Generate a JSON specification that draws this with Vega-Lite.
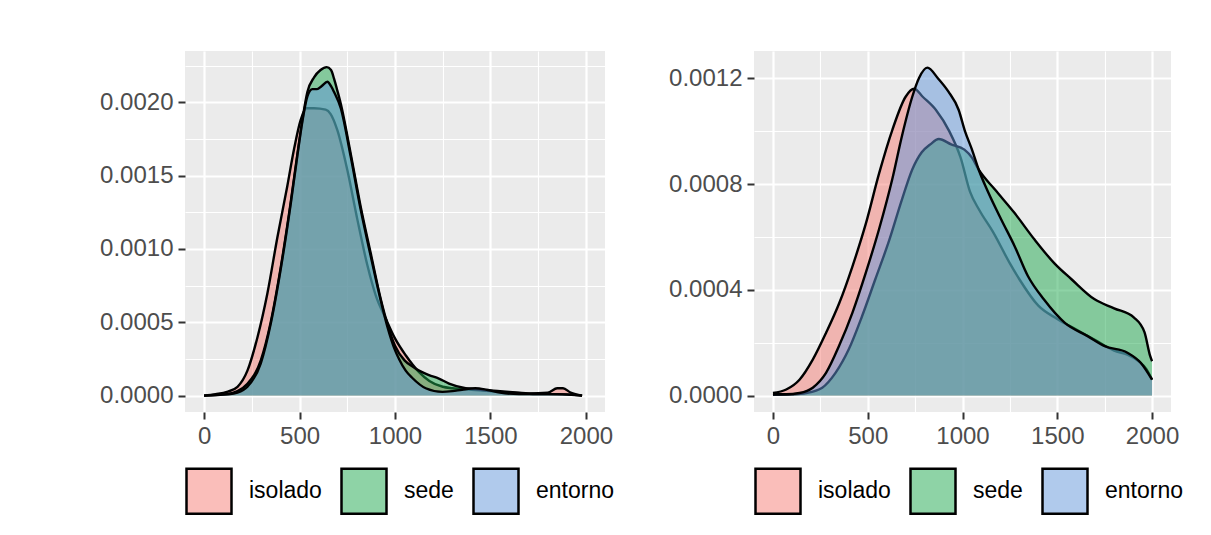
{
  "$schema": "https://vega.github.io/schema/vega-lite/v6.json",
  "background": "white",
  "padding": {"left": 99, "top": 51, "right": 10, "bottom": 5},
  "config": {
    "view": {"stroke": null, "fill": "#EBEBEB"},
    "font": "Liberation Sans",
    "axis": {"labelFontSize": 24, "labelColor": "#4D4D4D", "labelFont": "Liberation Sans", "tickColor": "#333333", "tickWidth": 2, "tickSize": 7, "labelPadding": 5, "domain": false, "gridColor": "white", "title": null, "labelOverlap": false, "labelFlush": false},
    "legend": {"orient": "bottom", "direction": "horizontal", "title": null, "labelFontSize": 23, "labelColor": "black", "labelFont": "Liberation Sans", "labelOffset": 16, "columnPadding": 14, "symbolType": "square", "symbolSize": 2025, "symbolStrokeColor": "black", "symbolStrokeWidth": 2.5, "symbolOpacity": 1, "offset": 19, "labelLimit": 0}
  },
  "datasets": {
    "dens": [
      {"panel":"L","grupo":"isolado","x":0,"y":0},{"panel":"L","grupo":"isolado","x":60,"y":0.00001},{"panel":"L","grupo":"isolado","x":120,"y":0.000025},{"panel":"L","grupo":"isolado","x":175,"y":0.00006},{"panel":"L","grupo":"isolado","x":227,"y":0.00017},{"panel":"L","grupo":"isolado","x":280,"y":0.0004},{"panel":"L","grupo":"isolado","x":332,"y":0.0007},{"panel":"L","grupo":"isolado","x":384,"y":0.00108},{"panel":"L","grupo":"isolado","x":436,"y":0.00143},{"panel":"L","grupo":"isolado","x":471,"y":0.00168},{"panel":"L","grupo":"isolado","x":506,"y":0.00188},{"panel":"L","grupo":"isolado","x":535,"y":0.00196},{"panel":"L","grupo":"isolado","x":576,"y":0.00196},{"panel":"L","grupo":"isolado","x":637,"y":0.00195},{"panel":"L","grupo":"isolado","x":663,"y":0.00192},{"panel":"L","grupo":"isolado","x":698,"y":0.00181},{"panel":"L","grupo":"isolado","x":750,"y":0.00154},{"panel":"L","grupo":"isolado","x":803,"y":0.0012},{"panel":"L","grupo":"isolado","x":855,"y":0.00089},{"panel":"L","grupo":"isolado","x":900,"y":0.00068},{"panel":"L","grupo":"isolado","x":950,"y":0.00053},{"panel":"L","grupo":"isolado","x":1000,"y":0.00039},{"panel":"L","grupo":"isolado","x":1056,"y":0.000275},{"panel":"L","grupo":"isolado","x":1126,"y":0.00016},{"panel":"L","grupo":"isolado","x":1180,"y":0.0001},{"panel":"L","grupo":"isolado","x":1250,"y":0.00006},{"panel":"L","grupo":"isolado","x":1300,"y":0.00005},{"panel":"L","grupo":"isolado","x":1400,"y":0.00004},{"panel":"L","grupo":"isolado","x":1500,"y":0.00003},{"panel":"L","grupo":"isolado","x":1600,"y":0.00002},{"panel":"L","grupo":"isolado","x":1700,"y":0.000015},{"panel":"L","grupo":"isolado","x":1800,"y":0.00002},{"panel":"L","grupo":"isolado","x":1850,"y":0.00005},{"panel":"L","grupo":"isolado","x":1880,"y":0.00005},{"panel":"L","grupo":"isolado","x":1920,"y":0.00002},{"panel":"L","grupo":"isolado","x":1980,"y":0},
      {"panel":"L","grupo":"sede","x":0,"y":0},{"panel":"L","grupo":"sede","x":120,"y":0.00001},{"panel":"L","grupo":"sede","x":175,"y":0.00003},{"panel":"L","grupo":"sede","x":227,"y":0.00008},{"panel":"L","grupo":"sede","x":297,"y":0.00024},{"panel":"L","grupo":"sede","x":349,"y":0.0005},{"panel":"L","grupo":"sede","x":401,"y":0.00087},{"panel":"L","grupo":"sede","x":454,"y":0.00132},{"panel":"L","grupo":"sede","x":489,"y":0.00165},{"panel":"L","grupo":"sede","x":515,"y":0.00188},{"panel":"L","grupo":"sede","x":541,"y":0.00207},{"panel":"L","grupo":"sede","x":576,"y":0.00217},{"panel":"L","grupo":"sede","x":610,"y":0.00222},{"panel":"L","grupo":"sede","x":642,"y":0.00224},{"panel":"L","grupo":"sede","x":665,"y":0.00222},{"panel":"L","grupo":"sede","x":681,"y":0.00216},{"panel":"L","grupo":"sede","x":698,"y":0.00208},{"panel":"L","grupo":"sede","x":716,"y":0.00199},{"panel":"L","grupo":"sede","x":768,"y":0.00165},{"panel":"L","grupo":"sede","x":820,"y":0.00129},{"panel":"L","grupo":"sede","x":873,"y":0.00097},{"panel":"L","grupo":"sede","x":925,"y":0.00066},{"panel":"L","grupo":"sede","x":960,"y":0.00049},{"panel":"L","grupo":"sede","x":1000,"y":0.00034},{"panel":"L","grupo":"sede","x":1050,"y":0.00024},{"panel":"L","grupo":"sede","x":1090,"y":0.0002},{"panel":"L","grupo":"sede","x":1126,"y":0.00017},{"panel":"L","grupo":"sede","x":1178,"y":0.00014},{"panel":"L","grupo":"sede","x":1230,"y":0.000116},{"panel":"L","grupo":"sede","x":1283,"y":0.000082},{"panel":"L","grupo":"sede","x":1370,"y":0.00005},{"panel":"L","grupo":"sede","x":1450,"y":0.00004},{"panel":"L","grupo":"sede","x":1550,"y":0.00003},{"panel":"L","grupo":"sede","x":1650,"y":0.00002},{"panel":"L","grupo":"sede","x":1750,"y":0.00001},{"panel":"L","grupo":"sede","x":1850,"y":0.00001},{"panel":"L","grupo":"sede","x":1980,"y":0},
      {"panel":"L","grupo":"entorno","x":0,"y":0},{"panel":"L","grupo":"entorno","x":120,"y":0.000008},{"panel":"L","grupo":"entorno","x":175,"y":0.00002},{"panel":"L","grupo":"entorno","x":227,"y":0.00006},{"panel":"L","grupo":"entorno","x":297,"y":0.00022},{"panel":"L","grupo":"entorno","x":349,"y":0.00049},{"panel":"L","grupo":"entorno","x":401,"y":0.00086},{"panel":"L","grupo":"entorno","x":454,"y":0.00131},{"panel":"L","grupo":"entorno","x":489,"y":0.00164},{"panel":"L","grupo":"entorno","x":515,"y":0.00187},{"panel":"L","grupo":"entorno","x":541,"y":0.00204},{"panel":"L","grupo":"entorno","x":567,"y":0.00209},{"panel":"L","grupo":"entorno","x":592,"y":0.00209},{"panel":"L","grupo":"entorno","x":615,"y":0.00211},{"panel":"L","grupo":"entorno","x":646,"y":0.00214},{"panel":"L","grupo":"entorno","x":665,"y":0.00211},{"panel":"L","grupo":"entorno","x":681,"y":0.00207},{"panel":"L","grupo":"entorno","x":716,"y":0.00196},{"panel":"L","grupo":"entorno","x":768,"y":0.00163},{"panel":"L","grupo":"entorno","x":820,"y":0.00127},{"panel":"L","grupo":"entorno","x":873,"y":0.00095},{"panel":"L","grupo":"entorno","x":925,"y":0.00065},{"panel":"L","grupo":"entorno","x":960,"y":0.00047},{"panel":"L","grupo":"entorno","x":1000,"y":0.00031},{"panel":"L","grupo":"entorno","x":1021,"y":0.00025},{"panel":"L","grupo":"entorno","x":1056,"y":0.00017},{"panel":"L","grupo":"entorno","x":1091,"y":0.00012},{"panel":"L","grupo":"entorno","x":1161,"y":0.00005},{"panel":"L","grupo":"entorno","x":1248,"y":0.000025},{"panel":"L","grupo":"entorno","x":1300,"y":0.00003},{"panel":"L","grupo":"entorno","x":1351,"y":0.00004},{"panel":"L","grupo":"entorno","x":1420,"y":0.00005},{"panel":"L","grupo":"entorno","x":1480,"y":0.00004},{"panel":"L","grupo":"entorno","x":1550,"y":0.00002},{"panel":"L","grupo":"entorno","x":1650,"y":0.00001},{"panel":"L","grupo":"entorno","x":1800,"y":0.00001},{"panel":"L","grupo":"entorno","x":1980,"y":0},
      {"panel":"R","grupo":"isolado","x":0,"y":0.00001},{"panel":"R","grupo":"isolado","x":70,"y":0.000023},{"panel":"R","grupo":"isolado","x":140,"y":0.00006},{"panel":"R","grupo":"isolado","x":210,"y":0.000136},{"panel":"R","grupo":"isolado","x":280,"y":0.000237},{"panel":"R","grupo":"isolado","x":350,"y":0.00035},{"panel":"R","grupo":"isolado","x":420,"y":0.00049},{"panel":"R","grupo":"isolado","x":490,"y":0.00065},{"panel":"R","grupo":"isolado","x":560,"y":0.00084},{"panel":"R","grupo":"isolado","x":630,"y":0.001005},{"panel":"R","grupo":"isolado","x":700,"y":0.00113},{"panel":"R","grupo":"isolado","x":745,"y":0.00116},{"panel":"R","grupo":"isolado","x":790,"y":0.00113},{"panel":"R","grupo":"isolado","x":860,"y":0.00108},{"panel":"R","grupo":"isolado","x":930,"y":0.001},{"panel":"R","grupo":"isolado","x":990,"y":0.0009},{"panel":"R","grupo":"isolado","x":1040,"y":0.00077},{"panel":"R","grupo":"isolado","x":1090,"y":0.0007},{"panel":"R","grupo":"isolado","x":1160,"y":0.00062},{"panel":"R","grupo":"isolado","x":1250,"y":0.0005},{"panel":"R","grupo":"isolado","x":1300,"y":0.00044},{"panel":"R","grupo":"isolado","x":1400,"y":0.00034},{"panel":"R","grupo":"isolado","x":1500,"y":0.00029},{"panel":"R","grupo":"isolado","x":1600,"y":0.00025},{"panel":"R","grupo":"isolado","x":1700,"y":0.00021},{"panel":"R","grupo":"isolado","x":1800,"y":0.00017},{"panel":"R","grupo":"isolado","x":1870,"y":0.000155},{"panel":"R","grupo":"isolado","x":1930,"y":0.00013},{"panel":"R","grupo":"isolado","x":1970,"y":0.0001},{"panel":"R","grupo":"isolado","x":2000,"y":0.00006},
      {"panel":"R","grupo":"sede","x":0,"y":0.000003},{"panel":"R","grupo":"sede","x":100,"y":0.000005},{"panel":"R","grupo":"sede","x":175,"y":0.00001},{"panel":"R","grupo":"sede","x":260,"y":0.00003},{"panel":"R","grupo":"sede","x":330,"y":0.000086},{"panel":"R","grupo":"sede","x":400,"y":0.000175},{"panel":"R","grupo":"sede","x":470,"y":0.0003},{"panel":"R","grupo":"sede","x":540,"y":0.00044},{"panel":"R","grupo":"sede","x":610,"y":0.00058},{"panel":"R","grupo":"sede","x":680,"y":0.00074},{"panel":"R","grupo":"sede","x":735,"y":0.000855},{"panel":"R","grupo":"sede","x":785,"y":0.00092},{"panel":"R","grupo":"sede","x":830,"y":0.00095},{"panel":"R","grupo":"sede","x":875,"y":0.00097},{"panel":"R","grupo":"sede","x":940,"y":0.00095},{"panel":"R","grupo":"sede","x":1010,"y":0.00093},{"panel":"R","grupo":"sede","x":1050,"y":0.0009},{"panel":"R","grupo":"sede","x":1085,"y":0.000855},{"panel":"R","grupo":"sede","x":1170,"y":0.00078},{"panel":"R","grupo":"sede","x":1275,"y":0.00069},{"panel":"R","grupo":"sede","x":1380,"y":0.00059},{"panel":"R","grupo":"sede","x":1485,"y":0.0005},{"panel":"R","grupo":"sede","x":1575,"y":0.00044},{"panel":"R","grupo":"sede","x":1695,"y":0.000365},{"panel":"R","grupo":"sede","x":1800,"y":0.00033},{"panel":"R","grupo":"sede","x":1905,"y":0.000295},{"panel":"R","grupo":"sede","x":1960,"y":0.00024},{"panel":"R","grupo":"sede","x":1990,"y":0.00015},{"panel":"R","grupo":"sede","x":2000,"y":0.00013},
      {"panel":"R","grupo":"entorno","x":0,"y":0.000005},{"panel":"R","grupo":"entorno","x":70,"y":0.000005},{"panel":"R","grupo":"entorno","x":140,"y":0.00001},{"panel":"R","grupo":"entorno","x":210,"y":0.00003},{"panel":"R","grupo":"entorno","x":280,"y":0.000086},{"panel":"R","grupo":"entorno","x":350,"y":0.00019},{"panel":"R","grupo":"entorno","x":420,"y":0.000315},{"panel":"R","grupo":"entorno","x":490,"y":0.000465},{"panel":"R","grupo":"entorno","x":560,"y":0.00063},{"panel":"R","grupo":"entorno","x":630,"y":0.00082},{"panel":"R","grupo":"entorno","x":680,"y":0.00098},{"panel":"R","grupo":"entorno","x":735,"y":0.00113},{"panel":"R","grupo":"entorno","x":770,"y":0.0012},{"panel":"R","grupo":"entorno","x":815,"y":0.00124},{"panel":"R","grupo":"entorno","x":870,"y":0.0012},{"panel":"R","grupo":"entorno","x":925,"y":0.00115},{"panel":"R","grupo":"entorno","x":980,"y":0.00108},{"panel":"R","grupo":"entorno","x":1013,"y":0.001},{"panel":"R","grupo":"entorno","x":1050,"y":0.00093},{"panel":"R","grupo":"entorno","x":1085,"y":0.000855},{"panel":"R","grupo":"entorno","x":1135,"y":0.00077},{"panel":"R","grupo":"entorno","x":1205,"y":0.000665},{"panel":"R","grupo":"entorno","x":1275,"y":0.000565},{"panel":"R","grupo":"entorno","x":1345,"y":0.000452},{"panel":"R","grupo":"entorno","x":1430,"y":0.000363},{"panel":"R","grupo":"entorno","x":1540,"y":0.000275},{"panel":"R","grupo":"entorno","x":1660,"y":0.000225},{"panel":"R","grupo":"entorno","x":1750,"y":0.000187},{"panel":"R","grupo":"entorno","x":1870,"y":0.000162},{"panel":"R","grupo":"entorno","x":1940,"y":0.000124},{"panel":"R","grupo":"entorno","x":2000,"y":0.00006}
    ]
  },
  "spacing": 53,
  "resolve": {"legend": {"color": "independent"}},
  "hconcat": [
    {
      "width": 420, "height": 361,
      "data": {"name": "dens"},
      "transform": [{"filter": "datum.panel == 'L'"}],
      "encoding": {
        "x": {"field": "x", "type": "quantitative", "scale": {"domain": [-100, 2100], "nice": false, "zero": false},
          "axis": {"values": [0,250,500,750,1000,1250,1500,1750,2000], "format": "d",
            "labelExpr": "datum.value % 500 == 0 ? datum.label : ''",
            "gridWidth": {"condition": {"test": "datum.value % 500 != 0", "value": 1.1}, "value": 2.2},
            "tickOpacity": {"condition": {"test": "datum.value % 500 != 0", "value": 0}, "value": 1}}},
        "y": {"field": "y", "type": "quantitative", "scale": {"domain": [-0.000112, 0.00235], "nice": false, "zero": false},
          "axis": {"values": [0,0.00025,0.0005,0.00075,0.001,0.00125,0.0015,0.00175,0.002,0.00225],
            "labelExpr": "abs(datum.value/0.0005 - round(datum.value/0.0005)) < 0.001 ? format(datum.value, '.4f') : ''",
            "gridWidth": {"condition": {"test": "abs(datum.value/0.0005 - round(datum.value/0.0005)) > 0.001", "value": 1.1}, "value": 2.2},
            "tickOpacity": {"condition": {"test": "abs(datum.value/0.0005 - round(datum.value/0.0005)) > 0.001", "value": 0}, "value": 1}}}
      },
      "layer": [
        {"transform": [{"filter": "datum.grupo == 'isolado'"}], "mark": {"type": "area", "interpolate": "monotone", "opacity": 1},
          "encoding": {"y2": {"datum": 0}, "color": {"field": "grupo", "type": "nominal", "scale": {"domain": ["isolado","sede","entorno"], "range": ["rgba(246,126,118,0.5)","rgba(30,168,78,0.5)","rgba(98,150,218,0.5)"]}}}},
        {"transform": [{"filter": "datum.grupo == 'isolado'"}], "mark": {"type": "line", "interpolate": "monotone", "color": "black", "strokeWidth": 2.4}, "encoding": {}},
        {"transform": [{"filter": "datum.grupo == 'sede'"}], "mark": {"type": "area", "interpolate": "monotone", "opacity": 1},
          "encoding": {"y2": {"datum": 0}, "color": {"field": "grupo", "type": "nominal", "scale": {"domain": ["isolado","sede","entorno"], "range": ["rgba(246,126,118,0.5)","rgba(30,168,78,0.5)","rgba(98,150,218,0.5)"]}}}},
        {"transform": [{"filter": "datum.grupo == 'sede'"}], "mark": {"type": "line", "interpolate": "monotone", "color": "black", "strokeWidth": 2.4}, "encoding": {}},
        {"transform": [{"filter": "datum.grupo == 'entorno'"}], "mark": {"type": "area", "interpolate": "monotone", "opacity": 1},
          "encoding": {"y2": {"datum": 0}, "color": {"field": "grupo", "type": "nominal", "scale": {"domain": ["isolado","sede","entorno"], "range": ["rgba(246,126,118,0.5)","rgba(30,168,78,0.5)","rgba(98,150,218,0.5)"]}}}},
        {"transform": [{"filter": "datum.grupo == 'entorno'"}], "mark": {"type": "line", "interpolate": "monotone", "color": "black", "strokeWidth": 2.4}, "encoding": {}}
      ]
    },
    {
      "width": 417, "height": 361,
      "data": {"name": "dens"},
      "transform": [{"filter": "datum.panel == 'R'"}],
      "encoding": {
        "x": {"field": "x", "type": "quantitative", "scale": {"domain": [-100, 2100], "nice": false, "zero": false},
          "axis": {"values": [0,250,500,750,1000,1250,1500,1750,2000], "format": "d",
            "labelExpr": "datum.value % 500 == 0 ? datum.label : ''",
            "gridWidth": {"condition": {"test": "datum.value % 500 != 0", "value": 1.1}, "value": 2.2},
            "tickOpacity": {"condition": {"test": "datum.value % 500 != 0", "value": 0}, "value": 1}}},
        "y": {"field": "y", "type": "quantitative", "scale": {"domain": [-0.000062, 0.001303], "nice": false, "zero": false},
          "axis": {"values": [0,0.0002,0.0004,0.0006,0.0008,0.001,0.0012],
            "labelExpr": "abs(datum.value/0.0004 - round(datum.value/0.0004)) < 0.001 ? format(datum.value, '.4f') : ''",
            "gridWidth": {"condition": {"test": "abs(datum.value/0.0004 - round(datum.value/0.0004)) > 0.001", "value": 1.1}, "value": 2.2},
            "tickOpacity": {"condition": {"test": "abs(datum.value/0.0004 - round(datum.value/0.0004)) > 0.001", "value": 0}, "value": 1}}}
      },
      "layer": [
        {"transform": [{"filter": "datum.grupo == 'isolado'"}], "mark": {"type": "area", "interpolate": "monotone", "opacity": 1},
          "encoding": {"y2": {"datum": 0}, "color": {"field": "grupo", "type": "nominal", "scale": {"domain": ["isolado","sede","entorno"], "range": ["rgba(246,126,118,0.5)","rgba(30,168,78,0.5)","rgba(98,150,218,0.5)"]}}}},
        {"transform": [{"filter": "datum.grupo == 'isolado'"}], "mark": {"type": "line", "interpolate": "monotone", "color": "black", "strokeWidth": 2.4}, "encoding": {}},
        {"transform": [{"filter": "datum.grupo == 'sede'"}], "mark": {"type": "area", "interpolate": "monotone", "opacity": 1},
          "encoding": {"y2": {"datum": 0}, "color": {"field": "grupo", "type": "nominal", "scale": {"domain": ["isolado","sede","entorno"], "range": ["rgba(246,126,118,0.5)","rgba(30,168,78,0.5)","rgba(98,150,218,0.5)"]}}}},
        {"transform": [{"filter": "datum.grupo == 'sede'"}], "mark": {"type": "line", "interpolate": "monotone", "color": "black", "strokeWidth": 2.4}, "encoding": {}},
        {"transform": [{"filter": "datum.grupo == 'entorno'"}], "mark": {"type": "area", "interpolate": "monotone", "opacity": 1},
          "encoding": {"y2": {"datum": 0}, "color": {"field": "grupo", "type": "nominal", "scale": {"domain": ["isolado","sede","entorno"], "range": ["rgba(246,126,118,0.5)","rgba(30,168,78,0.5)","rgba(98,150,218,0.5)"]}}}},
        {"transform": [{"filter": "datum.grupo == 'entorno'"}], "mark": {"type": "line", "interpolate": "monotone", "color": "black", "strokeWidth": 2.4}, "encoding": {}}
      ]
    }
  ]
}
